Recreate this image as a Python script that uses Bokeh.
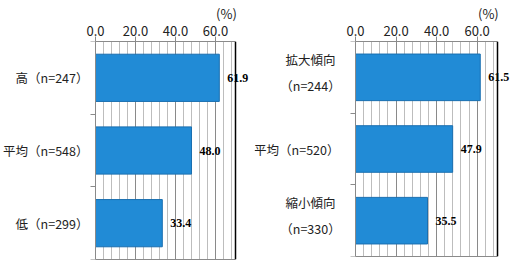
from bokeh.plotting import figure
from bokeh.models import (Range1d, FixedTicker, LabelSet, Label, Span, ColumnDataSource,
                          NumeralTickFormatter, LinearAxis)
from bokeh.layouts import row
from bokeh.embed import file_html
from bokeh.resources import INLINE

# ---- data ----
left_categories = ["高（n=247）", "平均（n=548）", "低（n=299）"]
left_values = [61.9, 48.0, 33.4]
right_categories = ["拡大傾向\n（n=244）", "平均（n=520）", "縮小傾向\n（n=330）"]
right_values = [61.5, 47.9, 35.5]
x_major_ticks = [0, 20, 40, 60]
x_minor_ticks = [4, 8, 12, 16, 24, 28, 32, 36, 44, 48, 52, 56, 64, 68]
x_max = 70
unit_label = "(%)"

FONT = "Noto Sans CJK JP"
VFONT = "DejaVu Sans"
BAR_FILL = "#218bd6"
BAR_LINE = "#1a6fb0"
MAJOR_GRID = "#8a8a8a"
MINOR_GRID = "#bdbdbd"
TEXT = "#222222"


def make_panel(cats, vals, fig_w, zero_px, px_per_x, frame_h, border_bottom,
               single_gap, multi_center):
    n = len(cats)
    x_start = -zero_px / px_per_x
    x_end = (fig_w - zero_px) / px_per_x
    p = figure(frame_width=fig_w, frame_height=frame_h,
               min_border_left=0, min_border_right=0,
               min_border_top=39, min_border_bottom=border_bottom,
               x_range=Range1d(x_start, x_end), y_range=Range1d(n, 0),
               x_axis_location="above", y_axis_location=None,
               output_backend="svg",
               toolbar_location=None, outline_line_color=None,
               background_fill_color="white", border_fill_color="white")

    ys = [i + 0.5 for i in range(n)]
    src = ColumnDataSource(dict(y=ys, v=vals, t=["%.1f" % v for v in vals]))

    # grids
    p.ygrid.grid_line_color = None
    g = p.xgrid[0]
    g.ticker = FixedTicker(ticks=x_major_ticks, minor_ticks=x_minor_ticks)
    g.bounds = (0, x_max)
    g.grid_line_color = MAJOR_GRID
    g.minor_grid_line_color = MINOR_GRID

    p.hbar(y="y", right="v", left=0, height=0.65, source=src,
           fill_color=BAR_FILL, line_color=BAR_LINE, line_width=1)

    # x axis (top)
    xa = p.xaxis[0]
    xa.ticker = FixedTicker(ticks=x_major_ticks, minor_ticks=x_minor_ticks)
    xa.formatter = NumeralTickFormatter(format="0.0")
    xa.bounds = (0, x_max)
    xa.major_tick_out = 5
    xa.major_tick_in = 0
    xa.minor_tick_out = 0
    xa.minor_tick_in = 0
    xa.axis_line_color = MAJOR_GRID
    xa.major_tick_line_color = MAJOR_GRID
    xa.major_label_text_font = FONT
    xa.major_label_text_font_size = "13px"
    xa.major_label_text_color = TEXT
    xa.major_label_standoff = 1

    # unit label as a second, line-less axis above
    ua = LinearAxis(ticker=FixedTicker(ticks=[x_max - 4.5]),
                    major_label_overrides={x_max - 4.5: unit_label},
                    axis_line_color=None, major_tick_line_color=None,
                    minor_tick_line_color=None, major_tick_out=0, major_tick_in=0,
                    major_label_standoff=0, major_label_text_font=FONT,
                    major_label_text_font_size="13px", major_label_text_color=TEXT)
    p.add_layout(ua, "above")

    # bottom border line (axis without ticks)
    ba = LinearAxis(ticker=FixedTicker(ticks=[]), bounds=(0, x_max),
                    axis_line_color=MAJOR_GRID, major_tick_line_color=None,
                    minor_tick_line_color=None, major_tick_out=0, major_tick_in=0,
                    major_label_text_font_size="1px")
    p.add_layout(ba, "below")

    # y axis at x = 0 with tick marks at category boundaries
    ya = LinearAxis(fixed_location=0, ticker=FixedTicker(ticks=list(range(n + 1))),
                    major_tick_out=5, major_tick_in=0, minor_tick_out=0, minor_tick_in=0,
                    axis_line_color=MAJOR_GRID, major_tick_line_color=MAJOR_GRID,
                    major_label_text_color=None, major_label_text_font_size="1px")
    p.add_layout(ya, "left")

    # right border of the plotting area
    p.add_layout(Span(location=x_max, dimension="height", line_color="black", line_width=1.5))

    # value labels
    p.add_layout(LabelSet(x="v", y="y", text="t", source=src, x_offset=8,
                          text_font=VFONT, text_font_size="12px", text_font_style="bold",
                          text_baseline="middle", text_align="left", text_color="black"))

    # category labels
    for y, c in zip(ys, cats):
        multi = "\n" in c
        p.add_layout(Label(x=0, y=y, text=c,
                           x_offset=(-multi_center if multi else -single_gap),
                           y_offset=(5 if multi else 0),
                           text_align=("center" if multi else "right"),
                           text_baseline="middle", text_line_height=1.4,
                           text_font=FONT, text_font_size="12.5px", text_color=TEXT))
    return p


p1 = make_panel(left_categories, left_values, 254, 95, 2.0, 218, 3, 7, 45)
p2 = make_panel(right_categories, right_values, 262, 101, 142 / 70, 215, 6, 16, 45)

layout = row(p1, p2, spacing=0)
open("out.html", "w").write(file_html(layout, INLINE))
